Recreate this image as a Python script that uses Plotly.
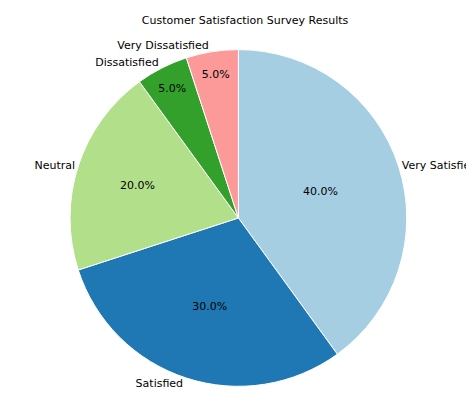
import plotly.graph_objects as go

labels = ["Very Satisfied", "Satisfied", "Neutral", "Dissatisfied", "Very Dissatisfied"]
values = [40, 30, 20, 5, 5]
colors = ["#a6cee3", "#1f78b4", "#b2df8a", "#33a02c", "#fb9a99"]

W, H = 474, 413
dom = dict(x=[70 / W, 450 / W], y=[1 - 396 / H, 1 - 26 / H])

common = dict(labels=labels, values=values, sort=False, direction="clockwise", rotation=0,
              domain=dom, showlegend=False, hoverinfo="skip")

fig = go.Figure()
fig.add_trace(go.Pie(
    marker=dict(colors=colors, line=dict(color="white", width=1)),
    textinfo="percent", texttemplate="%{percent:.1%}", textposition="inside",
    insidetextorientation="horizontal",
    textfont=dict(color="black", size=11), **common))
fig.add_trace(go.Pie(
    marker=dict(colors=["rgba(0,0,0,0)"] * 5, line=dict(width=0)),
    textinfo="label", textposition="outside", outsidetextfont=dict(color="black", size=11),
    **common))
fig.update_layout(
    width=W, height=H, margin=dict(l=0, r=0, t=0, b=0),
    paper_bgcolor="white", font=dict(family="DejaVu Sans", size=11, color="black"),
    title=dict(text="Customer Satisfaction Survey Results", x=0.5, xanchor="center",
               y=1 - 12 / H, yanchor="middle", font=dict(size=11)),
)
fig.write_html("out.html")
